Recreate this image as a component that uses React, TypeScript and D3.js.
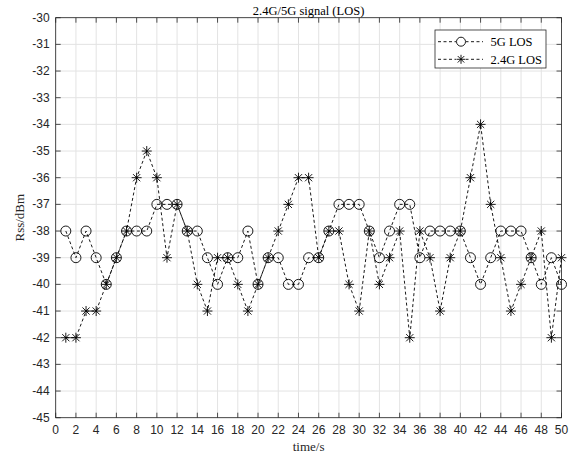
import React from "react";
import * as d3 from "d3";

// time axis (s) and readings for each link
const times = d3.range(1, 51);
const los5g = [
  -38, -39, -38, -39, -40, -39, -38, -38, -38, -37,
  -37, -37, -38, -38, -39, -40, -39, -39, -38, -40,
  -39, -39, -40, -40, -39, -39, -38, -37, -37, -37,
  -38, -39, -38, -37, -37, -39, -38, -38, -38, -38,
  -39, -40, -39, -38, -38, -38, -39, -40, -39, -40,
];
const los24g = [
  -42, -42, -41, -41, -40, -39, -38, -36, -35, -36,
  -39, -37, -38, -40, -41, -39, -39, -40, -41, -40,
  -39, -38, -37, -36, -36, -39, -38, -38, -40, -41,
  -38, -40, -39, -38, -42, -38, -39, -41, -39, -38,
  -36, -34, -37, -39, -41, -40, -39, -38, -42, -39,
];
const xTicks = d3.range(0, 51, 2);
const yTicks = d3.range(-45, -29, 1);
const seriesNames = ["5G LOS", "2.4G LOS"];

const W = 577;
const H = 457;
const margin = { top: 17.7, right: 15.5, bottom: 39.3, left: 55.7 };

const Star = ({ cx, cy, r = 5 }: { cx: number; cy: number; r?: number }) => {
  const d = r * 0.72;
  return (
    <g stroke="#000" strokeWidth={0.9}>
      <line x1={cx - r} y1={cy} x2={cx + r} y2={cy} />
      <line x1={cx} y1={cy - r} x2={cx} y2={cy + r} />
      <line x1={cx - d} y1={cy - d} x2={cx + d} y2={cy + d} />
      <line x1={cx - d} y1={cy + d} x2={cx + d} y2={cy - d} />
    </g>
  );
};

const App = () => {
  const x = d3.scaleLinear().domain([0, 50]).range([margin.left, W - margin.right]);
  const y = d3.scaleLinear().domain([-45, -30]).range([H - margin.bottom, margin.top]);
  const line = d3
    .line<number>()
    .x((_, i) => x(times[i]))
    .y((d) => y(d));

  const x0 = x.range()[0];
  const x1 = x.range()[1];
  const y0 = y.range()[0];
  const y1 = y.range()[1];
  const axisColor = "#262626";
  const sans = "'Liberation Sans', Arial, sans-serif";
  const serif = "'Liberation Serif', 'Times New Roman', serif";
  const tk = 5;

  // legend box
  const lg = { x: 435, y: 30, w: 111, h: 38 };

  return (
    <svg
      width={W}
      height={H}
      style={{ position: "absolute", left: 0, top: 0, background: "#fff" }}
    >
      <rect x={0} y={0} width={W} height={H} fill="#fff" />
      {/* grid */}
      <g stroke="#e3e3e3" strokeWidth={1}>
        {xTicks.map((t) => (
          <line key={"gx" + t} x1={x(t)} x2={x(t)} y1={y1} y2={y0} />
        ))}
        {yTicks.map((t) => (
          <line key={"gy" + t} x1={x0} x2={x1} y1={y(t)} y2={y(t)} />
        ))}
      </g>

      {/* ticks on all sides */}
      <g stroke={axisColor} strokeWidth={0.8}>
        {xTicks.map((t) => (
          <g key={"tx" + t}>
            <line x1={x(t)} x2={x(t)} y1={y0} y2={y0 - tk} />
            <line x1={x(t)} x2={x(t)} y1={y1} y2={y1 + tk} />
          </g>
        ))}
        {yTicks.map((t) => (
          <g key={"ty" + t}>
            <line x1={x0} x2={x0 + tk} y1={y(t)} y2={y(t)} />
            <line x1={x1} x2={x1 - tk} y1={y(t)} y2={y(t)} />
          </g>
        ))}
      </g>

      {/* series lines */}
      <path d={line(los5g) || ""} fill="none" stroke="#000" strokeWidth={0.9} strokeDasharray="3,2.5" />
      <path d={line(los24g) || ""} fill="none" stroke="#000" strokeWidth={0.9} strokeDasharray="3,2.5" />

      {/* markers */}
      {los5g.map((v, i) => (
        <circle key={"c" + i} cx={x(times[i])} cy={y(v)} r={5} fill="none" stroke="#000" strokeWidth={0.9} />
      ))}
      {los24g.map((v, i) => (
        <Star key={"s" + i} cx={x(times[i])} cy={y(v)} />
      ))}

      {/* box */}
      <rect x={x0} y={y1} width={x1 - x0} height={y0 - y1} fill="none" stroke={axisColor} strokeWidth={0.8} />

      {/* tick labels */}
      <g fontFamily={sans} fontSize={12} fill="#262626">
        {xTicks.map((t) => (
          <text key={"lx" + t} x={x(t)} y={y0 + 16.5} textAnchor="middle">
            {t}
          </text>
        ))}
        {yTicks.map((t) => (
          <text key={"ly" + t} x={x0 - 6} y={y(t) + 4} textAnchor="end">
            {t}
          </text>
        ))}
      </g>

      {/* titles */}
      <text x={(x0 + x1) / 2} y={14.5} textAnchor="middle" fontFamily={serif} fontSize={12.5} fill="#000">
        2.4G/5G signal (LOS)
      </text>
      <text x={(x0 + x1) / 2} y={451} textAnchor="middle" fontFamily={serif} fontSize={13} fill="#262626">
        time/s
      </text>
      <text
        transform={`translate(24,${(y0 + y1) / 2}) rotate(-90)`}
        textAnchor="middle"
        fontFamily={serif}
        fontSize={13}
        fill="#262626"
      >
        Rss/dBm
      </text>

      {/* legend */}
      <g>
        <rect x={lg.x} y={lg.y} width={lg.w} height={lg.h} fill="#fff" stroke={axisColor} strokeWidth={0.8} />
        {seriesNames.map((name, i) => {
          const ly = lg.y + 11.7 + i * 17.6;
          const mx = lg.x + 26;
          return (
            <g key={name}>
              <line x1={lg.x + 3} x2={lg.x + 48} y1={ly} y2={ly} stroke="#000" strokeWidth={0.9} strokeDasharray="3,2.5" />
              <rect x={mx - 5} y={ly - 5} width={10} height={10} fill="#fff" />
              {i === 0 ? (
                <circle cx={mx} cy={ly} r={4.5} fill="#fff" stroke="#000" strokeWidth={0.9} />
              ) : (
                <Star cx={mx} cy={ly} r={4.5} />
              )}
              <text x={lg.x + 55.5} y={ly + 4.3} fontFamily={serif} fontSize={12.5} fill="#000">
                {name}
              </text>
            </g>
          );
        })}
      </g>
    </svg>
  );
};

export default App;
